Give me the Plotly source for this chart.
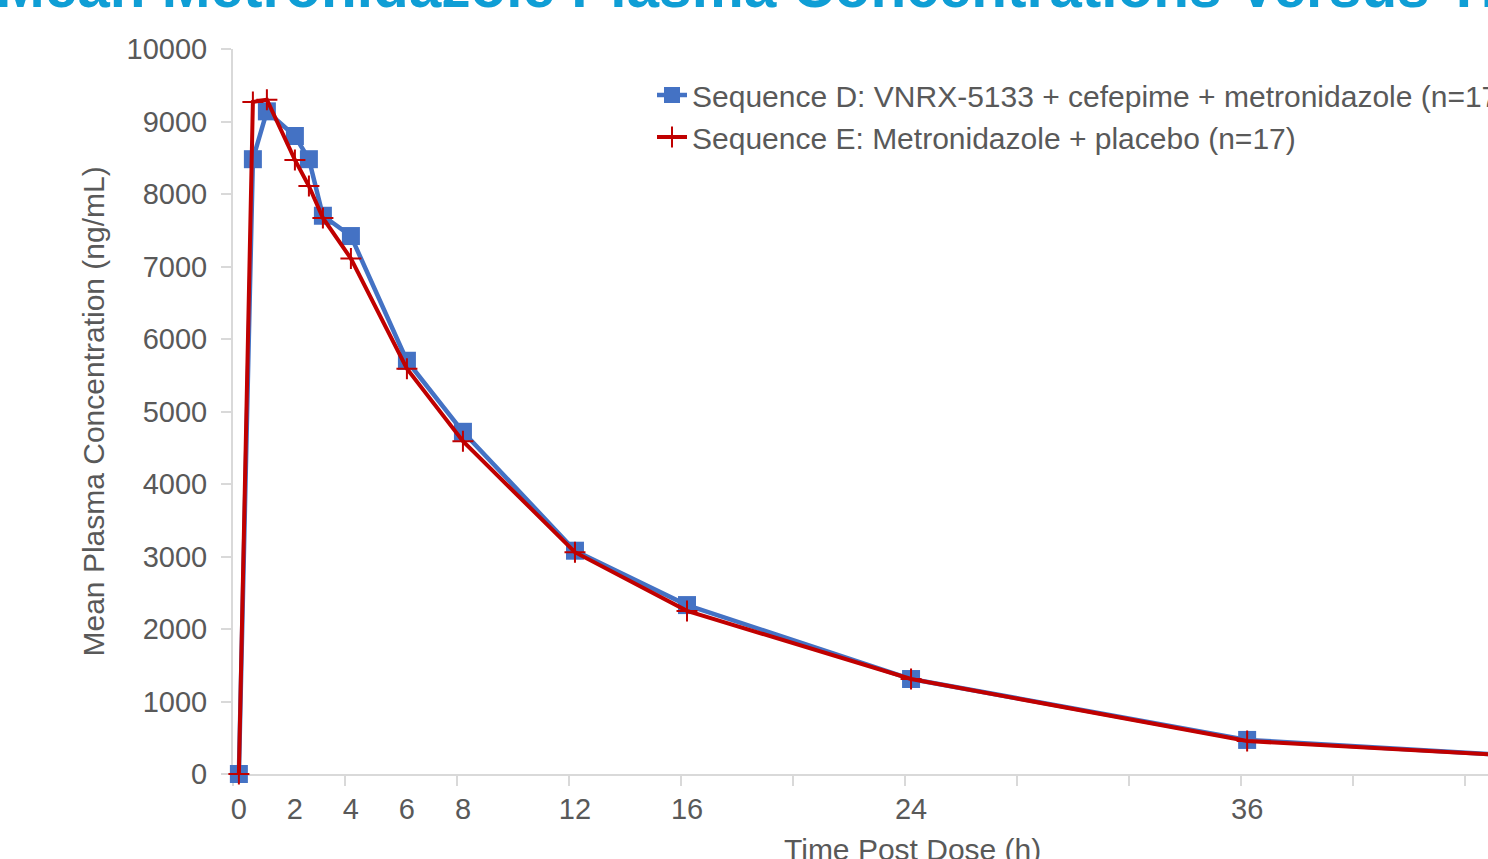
import plotly.graph_objects as go

time_h = [0, 0.5, 1, 2, 2.5, 3, 4, 6, 8, 12, 16, 24, 36, 48]
seq_d = [0, 8480, 9140, 8800, 8480, 7700, 7420, 5700, 4720, 3080, 2330, 1310, 470, 200]
seq_e = [0, 9270, 9300, 8470, 8110, 7670, 7110, 5590, 4590, 3060, 2250, 1310, 455, 200]
x_ticks = [0, 2, 4, 6, 8, 12, 16, 24, 36]
y_ticks = [0, 1000, 2000, 3000, 4000, 5000, 6000, 7000, 8000, 9000, 10000]

FONT = "Liberation Sans, Arial, sans-serif"
GREY = "#595959"
AX = "#d9d9d9"

fig = go.Figure()
fig.add_trace(go.Scatter(
    x=time_h, y=seq_d, mode="lines+markers", legendgroup="d",
    name="Sequence D: VNRX-5133 + cefepime + metronidazole (n=17)",
    line=dict(color="#4472C4", width=4.5), cliponaxis=False,
    marker=dict(symbol="square", size=18, color="#4472C4"),
))
fig.add_trace(go.Scatter(
    x=time_h, y=seq_e, mode="lines+markers", legendgroup="e",
    name="Sequence E: Metronidazole + placebo (n=17)",
    line=dict(color="#C00000", width=4), cliponaxis=False,
    marker=dict(symbol="cross-thin", size=15, color="#C00000",
                line=dict(color="#C00000", width=2)),
))

W, H = 1488, 859
L, R, T, B = 233, 0, 49, 85
pw = W - L - R
ph = H - T - B

def px_x(p):
    return (p - L) / pw

def px_y(p):
    return (H - B - p) / ph

fig.update_layout(
    width=W, height=H,
    margin=dict(l=L, r=R, t=T, b=B, autoexpand=False),
    paper_bgcolor="white", plot_bgcolor="white",
    font=dict(family=FONT, size=29, color=GREY),
    showlegend=True,
    legend=dict(x=px_x(652), y=px_y(69), xanchor="left", yanchor="top",
                bgcolor="rgba(0,0,0,0)", font=dict(size=30, color=GREY),
                itemwidth=30, tracegroupgap=0),
    xaxis=dict(range=[-0.21, 44.6], tickmode="array", tickvals=x_ticks,
               ticktext=[str(v) for v in x_ticks], ticks="",
               showgrid=False, zeroline=False, showline=True,
               linecolor=AX, linewidth=2, ticklabelstandoff=8,
               tickfont=dict(size=29, color=GREY), layer="below traces",
               minor=dict(tickmode="linear", tick0=-0.21, dtick=4,
                          ticks="outside", ticklen=10, tickcolor=AX,
                          tickwidth=2, showgrid=False)),
    yaxis=dict(range=[0, 10000], tickmode="array", tickvals=y_ticks,
               tickformat="d", layer="below traces",
               ticks="outside", ticklen=10, tickcolor=AX, tickwidth=2,
               showgrid=False, zeroline=False, showline=True,
               linecolor=AX, linewidth=2, ticklabelstandoff=8,
               tickfont=dict(size=29, color=GREY)),
)

fig.add_annotation(text="Mean Plasma Concentration (ng/mL)", textangle=-90,
                   xref="paper", yref="paper", x=px_x(93), y=0.5,
                   xanchor="center", yanchor="middle", showarrow=False,
                   font=dict(size=30, color=GREY))
fig.add_annotation(text="Time Post Dose (h)", xref="paper", yref="paper",
                   x=px_x(912), y=px_y(831), xanchor="center", yanchor="top",
                   showarrow=False, font=dict(size=30, color=GREY))
fig.add_annotation(text="<b>Mean Metronidazole Plasma Concentrations Versus Time</b>",
                   xref="paper", yref="paper", x=px_x(-6), y=px_y(21),
                   xanchor="left", yanchor="bottom", showarrow=False,
                   font=dict(size=58.5, color="#0F9ED5", family=FONT))

fig.write_html("out.html", config={"displayModeBar": False},
               post_script="document.body.style.margin='0';")
